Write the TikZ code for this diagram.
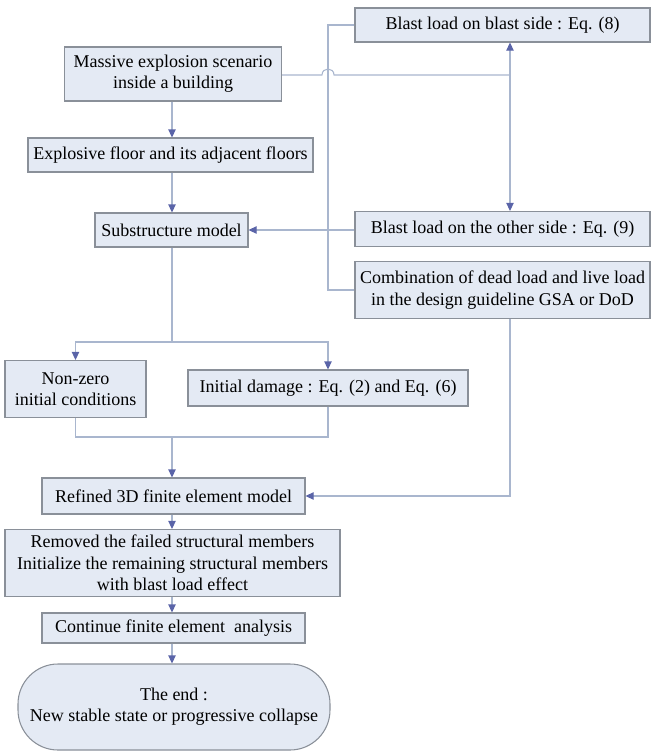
\documentclass[tikz,border=0pt]{standalone}
\usepackage{fontspec}
\setmainfont{Liberation Serif}
\usetikzlibrary{arrows.meta,calc}
\definecolor{boxfill}{HTML}{E4EAF4}
\definecolor{boxdraw}{HTML}{8A9099}
\definecolor{linec}{HTML}{A9B6CE}
\definecolor{tipc}{HTML}{5A64A8}
\tikzset{
  box/.style={draw=boxdraw, fill=boxfill, line width=0.8pt, align=center, inner sep=1pt,
    font=\fontsize{13.5}{16}\selectfont},
  conn/.style={draw=linec, line width=0.8pt},
  arr/.style={conn, -{Triangle[color=tipc,length=6pt,width=5.5pt]}},
}
\begin{document}
\begin{tikzpicture}[x=0.75pt,y=-0.75pt]
\useasboundingbox (0,0) rectangle (663,754);
\node[box, minimum width=295*0.75pt, minimum height=34*0.75pt] (b8) at (502.5,25) {Blast load on blast side : Eq. (8)};
\node[box, minimum width=217*0.75pt, minimum height=54*0.75pt] (mass) at (173,74) {Massive explosion scenario\\inside a building};
\node[box, minimum width=285*0.75pt, minimum height=34*0.75pt] (expl) at (170.5,155) {Explosive floor and its adjacent floors};
\node[box, minimum width=153*0.75pt, minimum height=34*0.75pt] (sub) at (171.5,230) {Substructure model};
\node[box, minimum width=295*0.75pt, minimum height=35*0.75pt] (b9) at (502.5,229) {Blast load on the other side : Eq. (9)};
\node[box, minimum width=295*0.75pt, minimum height=57*0.75pt] (comb) at (502.5,290) {Combination of dead load and live load\\in the design guideline GSA or DoD};
\node[box, minimum width=141*0.75pt, minimum height=57*0.75pt] (nz) at (75.5,389) {Non-zero\\initial conditions};
\node[box, minimum width=280*0.75pt, minimum height=36*0.75pt] (dmg) at (328,388) {Initial damage : Eq. (2) and Eq. (6)};
\node[box, minimum width=263*0.75pt, minimum height=36*0.75pt] (ref) at (173.5,496) {Refined 3D finite element model};
\node[box, minimum width=335*0.75pt, minimum height=67*0.75pt] (rem) at (172.5,563) {Removed the failed structural members\\Initialize the remaining structural members\\with blast load effect};
\node[box, minimum width=263*0.75pt, minimum height=30*0.75pt] (cont) at (173.5,628) {Continue finite element\ \ analysis};
\node[box, minimum width=312*0.75pt, minimum height=86*0.75pt, rounded corners=30pt] (end) at (174,707) {The end :\\New stable state or progressive collapse};

\coordinate (j1) at (510,75);
\coordinate (s1) at (172,342);
\coordinate (s2) at (172,437);

\draw[arr] (mass.south -| s1) -- (expl.north -| s1);
\draw[arr] (expl.south -| s1) -- (sub.north -| s1);
\draw[conn] (mass.east |- j1) -- (322,75) .. controls (322,67) and (334,67) .. (334,75) -- (j1);
\draw[arr] (j1) -- (b8.south -| j1);
\draw[arr] (j1) -- (b9.north -| j1);
\draw[conn] (b8.west) -- (328,25) -- (328,290) -- (comb.west);
\draw[arr] (b9.west |- sub.east) -- (sub.east);
\draw[conn] (sub.south -| s1) -- (s1);
\draw[arr] (s1) -| (nz.north);
\draw[arr] (s1) -| (dmg.north);
\draw[conn] (nz.south) |- (s2);
\draw[conn] (dmg.south) |- (s2);
\draw[arr] (s2) -- (ref.north -| s2);
\draw[arr] (comb.south -| j1) |- (ref.east);
\draw[arr] (ref.south -| s1) -- (rem.north -| s1);
\draw[arr] (rem.south -| s1) -- (cont.north -| s1);
\draw[arr] (cont.south -| s1) -- (end.north -| s1);
\end{tikzpicture}
\end{document}
